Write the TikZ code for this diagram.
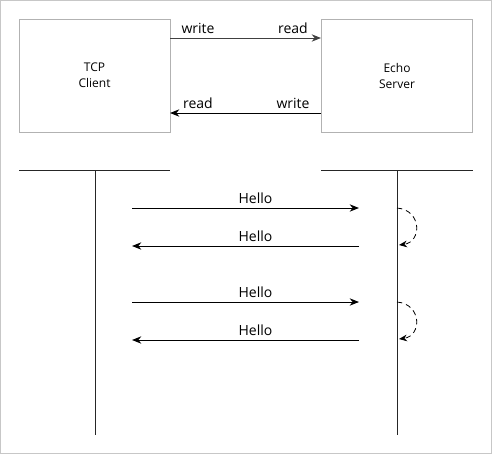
\documentclass[tikz,border=0pt]{standalone}
\usepackage{fontspec}
\setmainfont{Open Sans}
\usetikzlibrary{arrows.meta}
\begin{document}
\begin{tikzpicture}[x=0.75pt,y=-0.75pt,
  box/.style={draw=black!30,line width=0.75pt,minimum width=113.25pt,minimum height=84.75pt,inner sep=0pt,align=center,font=\fontsize{9}{12}\selectfont},
  lbl/.style={font=\fontsize{10.5}{12}\selectfont,inner sep=0pt,anchor=base},
  msg/.style={line width=0.75pt,-{Stealth[length=7pt,width=5.5pt]}},
  life/.style={line width=0.75pt,black!85},
  self/.style={line width=0.6pt,dash pattern=on 4pt off 3pt,-{Stealth[length=6pt,width=5pt]}}]
\useasboundingbox (0,0) rectangle (492,454);
\draw[black!22,line width=0.75pt] (0.5,0.5) rectangle (491.5,453.5);
% boxes
\node[box] (client) at (94.5,75.5) {TCP\\Client};
\node[box] (server) at (397,75.5) {Echo\\Server};
\coordinate (cw) at (170,38); \coordinate (sr) at (321,38);
\coordinate (sw) at (321,113); \coordinate (cr) at (170,113);
\draw[msg,black!75] (cw) -- (sr);
\draw[msg] (sw) -- (cr);
\node[lbl] (l1) at (198,33) {write};
\node[lbl] (l2) at (293,33) {read};
\node[lbl] (l3) at (198,108) {read};
\node[lbl] (l4) at (293,108) {write};
% lifelines
\coordinate (ch1) at (19,170); \coordinate (ch2) at (170,170);
\coordinate (sh1) at (321,170); \coordinate (sh2) at (473,170);
\coordinate (ct) at (95,170); \coordinate (cb) at (95,435);
\coordinate (st) at (397,170); \coordinate (sb) at (397,435);
\draw[life] (ch1) -- (ch2);
\draw[life] (sh1) -- (sh2);
\draw[life] (ct) -- (cb);
\draw[life] (st) -- (sb);
% messages
\coordinate (a1) at (132,208); \coordinate (b1) at (359,208);
\coordinate (b2) at (359,246); \coordinate (a2) at (132,246);
\coordinate (a3) at (132,302); \coordinate (b3) at (359,302);
\coordinate (b4) at (359,340); \coordinate (a4) at (132,340);
\draw[msg] (a1) -- (b1);
\draw[msg] (b2) -- (a2);
\draw[msg] (a3) -- (b3);
\draw[msg] (b4) -- (a4);
\node[lbl] (h1) at (255.5,203) {Hello};
\node[lbl] (h2) at (255.5,241) {Hello};
\node[lbl] (h3) at (255.5,297) {Hello};
\node[lbl] (h4) at (255.5,335) {Hello};
% self loops
\coordinate (s1) at (397,208); \coordinate (e1) at (399,245);
\coordinate (s2) at (397,302); \coordinate (e2) at (399,339);
\draw[self] (s1) .. controls (422,210) and (422,242) .. (e1);
\draw[self] (s2) .. controls (422,304) and (422,336) .. (e2);
\end{tikzpicture}
\end{document}
